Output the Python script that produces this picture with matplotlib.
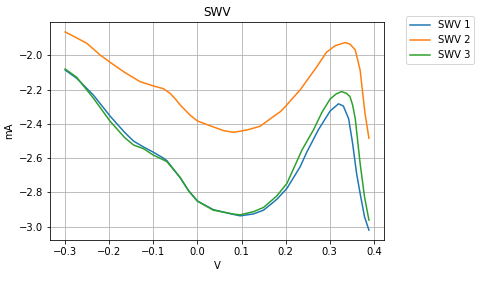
import numpy as np
import matplotlib
matplotlib.use("Agg")
import matplotlib.pyplot as plt

# potential (V) and current (mA)
v_swv1 = [-0.3, -0.274, -0.236, -0.198, -0.165, -0.145, -0.122, -0.1, -0.077, -0.069,
          -0.039, -0.02, 0.0, 0.036, 0.082, 0.097, 0.127, 0.15, 0.18, 0.203,
          0.233, 0.248, 0.274, 0.301, 0.32, 0.331, 0.343, 0.352, 0.361, 0.369,
          0.379, 0.389]
i_swv1 = [-2.086, -2.134, -2.232, -2.355, -2.45, -2.5, -2.535, -2.565, -2.6, -2.615,
          -2.715, -2.79, -2.85, -2.9, -2.928, -2.936, -2.925, -2.903, -2.84, -2.776,
          -2.65, -2.565, -2.436, -2.325, -2.283, -2.296, -2.37, -2.514, -2.689, -2.805,
          -2.942, -3.019]

v_swv2 = [-0.3, -0.251, -0.221, -0.198, -0.165, -0.13, -0.1, -0.077, -0.062, -0.05,
          -0.039, -0.017, 0.0, 0.029, 0.06, 0.082, 0.112, 0.142, 0.172, 0.188,
          0.199, 0.233, 0.271, 0.293, 0.312, 0.335, 0.346, 0.358, 0.369, 0.38,
          0.389]
i_swv2 = [-1.864, -1.93, -1.998, -2.041, -2.1, -2.154, -2.179, -2.195, -2.222, -2.255,
          -2.29, -2.348, -2.383, -2.411, -2.44, -2.449, -2.436, -2.414, -2.358, -2.329,
          -2.3, -2.202, -2.066, -1.982, -1.945, -1.926, -1.935, -1.969, -2.086, -2.337,
          -2.484]

v_swv3 = [-0.3, -0.274, -0.236, -0.198, -0.165, -0.145, -0.122, -0.1, -0.077, -0.069,
          -0.039, -0.02, 0.0, 0.036, 0.082, 0.097, 0.127, 0.15, 0.18, 0.203,
          0.237, 0.263, 0.283, 0.301, 0.315, 0.327, 0.338, 0.346, 0.352, 0.358,
          0.369, 0.379, 0.389]
i_swv3 = [-2.08, -2.128, -2.25, -2.385, -2.48, -2.523, -2.545, -2.582, -2.61, -2.621,
          -2.712, -2.79, -2.85, -2.903, -2.926, -2.93, -2.912, -2.887, -2.82, -2.747,
          -2.553, -2.436, -2.33, -2.255, -2.225, -2.212, -2.222, -2.241, -2.29, -2.37,
          -2.63, -2.825, -2.961]

fig, ax = plt.subplots(figsize=(485 / 72, 282 / 72), dpi=72)
fig.subplots_adjust(left=0.103, right=0.792, bottom=0.149, top=0.922)

ax.plot(v_swv1, i_swv1, label='SWV 1')
ax.plot(v_swv2, i_swv2, label='SWV 2')
ax.plot(v_swv3, i_swv3, label='SWV 3')

ax.set_title('SWV')
ax.set_xlabel('V')
ax.set_ylabel('mA')
ax.grid(True)
ax.legend(bbox_to_anchor=(1.05, 1.05), loc='upper left')

fig.savefig('out.png', dpi=72)
